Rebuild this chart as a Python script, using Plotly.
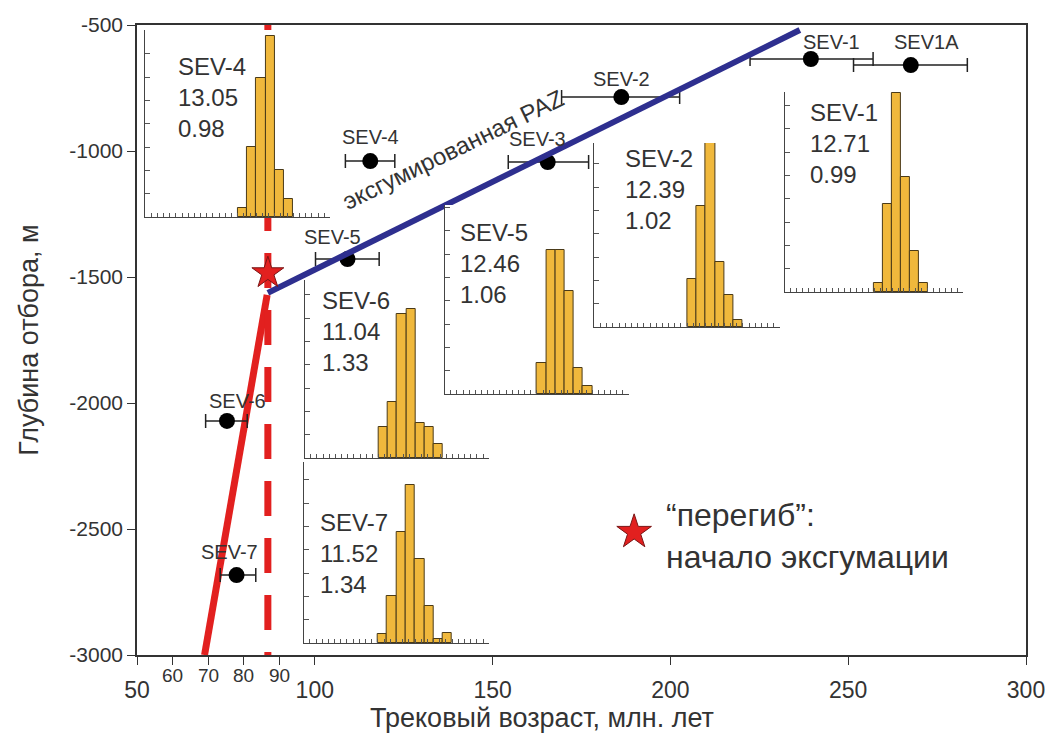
import plotly.graph_objects as go

# ---------------- data ----------------
samples = ["SEV-1", "SEV1A", "SEV-2", "SEV-3", "SEV-4", "SEV-5", "SEV-6", "SEV-7"]
ages = [239.5, 267.6, 186.2, 165.5, 115.6, 109.2, 75.3, 78.0]
age_low = [222.4, 251.5, 169.4, 154.4, 108.6, 100.2, 69.3, 73.4]
age_high = [257.0, 283.5, 202.6, 177.0, 122.5, 118.1, 81.0, 83.4]
depths = [-635, -659, -786, -1044, -1040, -1429, -2071, -2683]
label_x = [245.3, 272.1, 186.2, 162.7, 115.6, 105.0, 78.2, 76.0]
label_y = [-567, -567, -714, -952, -944, -1341, -1992, -2591]

paz_age = [86.8, 236.4]
paz_depth = [-1563, -520]
exh_age = [69.0, 86.6]
exh_depth = [-3000, -1571]
break_age = 86.8
break_depth = -1484

y_ticks = [-500, -1000, -1500, -2000, -2500, -3000]
x_major = [50, 100, 150, 200, 250, 300]
x_minor = [60, 70, 80, 90]

# track length histograms (frequency in inset tick units, 1 um bins)
hist_names = ["SEV-4", "SEV-6", "SEV-7", "SEV-5", "SEV-2", "SEV-1"]
hist_mean = ["13.05", "11.04", "11.52", "12.46", "12.39", "12.71"]
hist_sd = ["0.98", "1.33", "1.34", "1.06", "1.02", "0.99"]
hist_start = [10, 8, 8, 10, 10, 10]
hist_counts = [
    [0.39, 3.0, 5.97, 7.77, 2.0, 0.77],
    [1.31, 2.39, 6.19, 6.39, 1.5, 1.31, 0.61],
    [0.4, 2.0, 4.76, 6.76, 3.6, 1.57, 0.19, 0.41],
    [1.31, 6.17, 6.17, 4.43, 1.13, 0.34],
    [2.06, 5.2, 8.0, 2.77, 1.39, 0.31],
    [0.39, 3.76, 8.53, 4.93, 1.74, 0.39],
]

# ---------------- layout geometry (pixels) ----------------
W, H = 1057, 735
ML, MR, MT, MB = 137, 24, 25, 80
PW, PH = W - ML - MR, H - MT - MB
# inset boxes: left, bottom, top, right (px)
inset_box = [
    (145, 217, 30, 332),
    (306, 458, 280, 492),
    (305, 643, 462, 492),
    (447, 394, 205, 633),
    (598, 327, 143, 785),
    (790, 292, 92, 970),
]
# inset text: left x px, top y px
inset_text = [(176, 51), (321, 285), (319, 507), (461, 217), (627, 143), (813, 97)]

FONT = "Liberation Sans, Arial, sans-serif"
TXT = "#333333"
GOLD = "#f0b83c"
RED = "#e2201f"
NAVY = "#2e2f8f"


def px2paper(px, py):
    return (px - ML) / PW, (H - MB - py) / PH


fig = go.Figure()

# exhumation (red) line
fig.add_trace(go.Scatter(x=exh_age, y=exh_depth, mode="lines",
                         line=dict(color=RED, width=7), showlegend=False))
# vertical dashed line at the break
fig.add_trace(go.Scatter(x=[break_age, break_age], y=[-500, -3000], mode="lines",
                         line=dict(color=RED, width=7, dash="35px,22px"), showlegend=False))
# data points with error bars
fig.add_trace(go.Scatter(
    x=ages, y=depths, mode="markers",
    marker=dict(color="black", size=16),
    error_x=dict(type="data", symmetric=False,
                 array=[h - a for h, a in zip(age_high, ages)],
                 arrayminus=[a - l for a, l in zip(ages, age_low)],
                 color="#222222", thickness=1.5, width=7),
    showlegend=False))
# PAZ (blue) line
fig.add_trace(go.Scatter(x=paz_age, y=paz_depth, mode="lines",
                         line=dict(color=NAVY, width=6), showlegend=False))
# break star
fig.add_trace(go.Scatter(x=[break_age], y=[break_depth], mode="markers",
                         marker=dict(symbol="star", size=24, color=RED,
                                     line=dict(color="#7a1515", width=1)),
                         showlegend=False))
# legend star
fig.add_trace(go.Scatter(x=[189.8], y=[-2512], mode="markers",
                         marker=dict(symbol="star", size=26, color=RED,
                                     line=dict(color="#7a1515", width=1)),
                         showlegend=False))

annotations = []
for s, lx, ly in zip(samples, label_x, label_y):
    annotations.append(dict(x=lx, y=ly, xref="x", yref="y", text=s, showarrow=False,
                            font=dict(family=FONT, size=20, color=TXT)))

annotations.append(dict(x=138.9, y=-996, xref="x", yref="y", text="эксгумированная PAZ",
                        showarrow=False, textangle=-26,
                        font=dict(family=FONT, size=24, color=TXT)))
annotations.append(dict(x=198.2, y=-2528, xref="x", yref="y",
                        text="“перегиб”:<br>начало эксгумации", showarrow=False,
                        xanchor="left", yanchor="middle", align="left",
                        font=dict(family=FONT, size=32, color=TXT)))
# minor tick labels (60..90)
for v in x_minor:
    annotations.append(dict(x=v, y=-0.032, xref="x", yref="paper", text=str(v),
                            showarrow=False, yanchor="middle",
                            font=dict(family=FONT, size=19, color=TXT)))
# axis titles
tx, ty = px2paper(545, 718)
annotations.append(dict(x=tx, y=ty, xref="paper", yref="paper",
                        text="Трековый возраст, млн. лет", showarrow=False,
                        xanchor="center", yanchor="middle",
                        font=dict(family=FONT, size=27, color=TXT)))
yx, yy = px2paper(28, 340)
annotations.append(dict(x=yx, y=yy, xref="paper", yref="paper",
                        text="Глубина отбора, м", showarrow=False, textangle=-90,
                        xanchor="center", yanchor="middle",
                        font=dict(family=FONT, size=27, color=TXT)))

layout_axes = {}
for i, (name, start, counts) in enumerate(zip(hist_names, hist_start, hist_counts)):
    k = i + 2
    L, B, T, R = inset_box[i]
    x0, y0 = px2paper(L, B)
    x1, y1 = px2paper(R, T)
    yr = (B - T) / 23.3
    fig.add_trace(go.Bar(
        x=[start + j + 0.5 for j in range(len(counts))], y=counts, width=1.0,
        marker=dict(color=GOLD, line=dict(color="#4a3a18", width=1)),
        xaxis=f"x{k}", yaxis=f"y{k}", showlegend=False, cliponaxis=False))
    layout_axes[f"xaxis{k}"] = dict(domain=[x0, x1], range=[0, 20], anchor=f"y{k}",
                                    showgrid=False, zeroline=False, showline=True,
                                    linecolor="#444444", linewidth=1.2,
                                    ticks="inside", ticklen=4, tickcolor="#555555",
                                    tick0=0, dtick=20 / 30, showticklabels=False)
    layout_axes[f"yaxis{k}"] = dict(domain=[y0, y1], range=[0, yr], anchor=f"x{k}",
                                    showgrid=False, zeroline=False, showline=True,
                                    linecolor="#444444", linewidth=1.2,
                                    ticks="inside", ticklen=5, tickcolor="#555555",
                                    tick0=0, dtick=1, showticklabels=False)
    tlx, tly = inset_text[i]
    ax_, ay_ = px2paper(tlx, tly)
    annotations.append(dict(x=ax_, y=ay_, xref="paper", yref="paper",
                            text=f"{name}<br>{hist_mean[i]}<br>{hist_sd[i]}",
                            showarrow=False, xanchor="left", yanchor="top", align="left",
                            font=dict(family=FONT, size=24, color=TXT)))

fig.update_layout(
    width=W, height=H,
    margin=dict(l=ML, r=MR, t=MT, b=MB),
    paper_bgcolor="white", plot_bgcolor="white",
    bargap=0,
    xaxis=dict(range=[50, 300], showgrid=False, zeroline=False,
               showline=True, mirror=True, linecolor="#333333", linewidth=1.5,
               ticks="outside", ticklen=8, tickcolor="#333333",
               tickvals=x_major + x_minor,
               ticktext=[str(v) for v in x_major] + [""] * len(x_minor),
               ticklabelstandoff=6,
               tickfont=dict(family=FONT, size=23, color=TXT)),
    yaxis=dict(range=[-3000, -500], showgrid=False, zeroline=False,
               showline=True, mirror=True, linecolor="#333333", linewidth=1.5,
               ticks="outside", ticklen=8, tickcolor="#333333",
               tickvals=y_ticks, ticktext=[str(v) for v in y_ticks],
               tickfont=dict(family=FONT, size=21, color=TXT)),
    annotations=annotations,
    **layout_axes,
)

fig.write_html("out.html")
